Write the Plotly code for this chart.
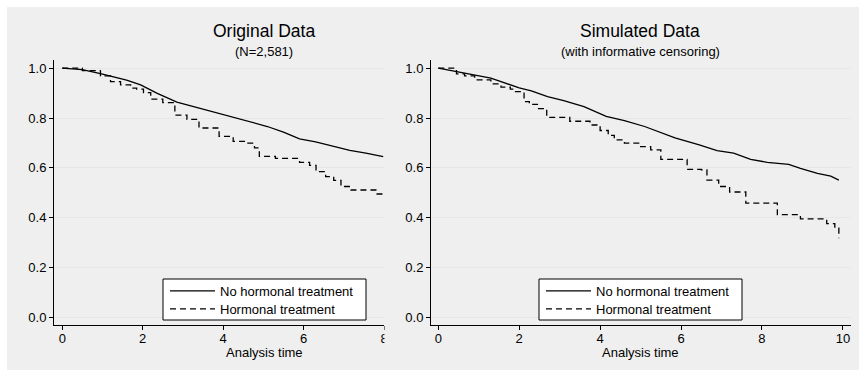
import plotly.graph_objects as go

W, H = 859, 370

# ---------------- data ----------------
orig_t_none = [0, 0.5, 0.95, 1.3, 1.6, 1.95, 2.35, 2.85, 3.4, 3.8, 4.25, 4.7, 5.1, 5.5, 5.9, 6.3, 6.7, 7.15, 7.55, 7.98]
orig_s_none = [1.0, 0.994, 0.978, 0.965, 0.952, 0.933, 0.9, 0.864, 0.84, 0.822, 0.803, 0.784, 0.766, 0.743, 0.716, 0.704, 0.688, 0.67, 0.659, 0.645]

orig_t_horm = [0, 0.5, 0.95, 1.2, 1.45, 1.7, 1.85, 2.02, 2.2, 2.5, 2.8, 3.1, 3.4, 3.9, 4.25, 4.55, 4.78, 4.9, 5.3, 5.9, 6.15, 6.31, 6.55, 6.75, 6.93, 7.18, 7.8, 7.98]
orig_s_horm = [1.0, 0.99, 0.969, 0.946, 0.933, 0.92, 0.916, 0.902, 0.876, 0.862, 0.812, 0.795, 0.76, 0.726, 0.706, 0.699, 0.68, 0.646, 0.638, 0.622, 0.61, 0.585, 0.565, 0.55, 0.525, 0.511, 0.495, 0.491]

sim_t_none = [0, 0.6, 1.3, 1.55, 2.0, 2.3, 2.7, 3.1, 3.6, 4.15, 4.6, 5.1, 5.55, 5.85, 6.45, 6.89, 7.3, 7.72, 8.13, 8.66, 8.95, 9.37, 9.7, 9.9]
sim_s_none = [1.0, 0.982, 0.96, 0.946, 0.921, 0.909, 0.886, 0.87, 0.846, 0.807, 0.79, 0.766, 0.74, 0.72, 0.692, 0.669, 0.659, 0.634, 0.622, 0.614, 0.598, 0.578, 0.567, 0.551]

sim_t_horm = [0, 0.45, 0.65, 0.9, 1.3, 1.55, 1.78, 1.88, 2.12, 2.25, 2.45, 2.68, 3.25, 3.75, 4.0, 4.2, 4.35, 4.6, 5.0, 5.25, 5.5, 6.15, 6.5, 6.64, 6.93, 7.2, 7.6, 8.38, 8.95, 9.6, 9.8, 9.9]
sim_s_horm = [1.0, 0.977, 0.969, 0.953, 0.937, 0.924, 0.916, 0.906, 0.866, 0.855, 0.838, 0.803, 0.787, 0.772, 0.75, 0.73, 0.712, 0.699, 0.685, 0.672, 0.634, 0.594, 0.592, 0.551, 0.525, 0.503, 0.458, 0.412, 0.395, 0.376, 0.358, 0.317]

titles = ["Original Data", "Simulated Data"]
subtitles = ["(N=2,581)", "(with informative censoring)"]
series_names = ["No hormonal treatment", "Hormonal treatment"]
x_title = "Analysis time"
y_ticks = [0.0, 0.2, 0.4, 0.6, 0.8, 1.0]
x_ticks_left = [0, 2, 4, 6, 8]
x_ticks_right = [0, 2, 4, 6, 8, 10]

# ---------------- helpers ----------------
def px(x):
    return x / W

def py(y):
    return 1 - y / H

FONT = "Liberation Sans, Arial, sans-serif"
BG = "#efefef"
DASH = "6px,4px"

fig = go.Figure()

panels = [
    dict(xa="x", ya="y", legs=("legend", "legend3"), t1=orig_t_none, s1=orig_s_none, t2=orig_t_horm, s2=orig_s_horm),
    dict(xa="x2", ya="y2", legs=("legend2", "legend4"), t1=sim_t_none, s1=sim_s_none, t2=sim_t_horm, s2=sim_s_horm),
]
for p in panels:
    fig.add_trace(go.Scatter(x=p["t1"], y=p["s1"], mode="lines", name=series_names[0],
                             line=dict(color="black", width=1.3, shape="linear"),
                             xaxis=p["xa"], yaxis=p["ya"], legend=p["legs"][0]))
    fig.add_trace(go.Scatter(x=p["t2"], y=p["s2"], mode="lines", name=series_names[1],
                             line=dict(color="black", width=1.3, dash=DASH, shape="hv"),
                             xaxis=p["xa"], yaxis=p["ya"], legend=p["legs"][1]))

axis_common = dict(showline=True, linecolor="black", linewidth=1, ticks="outside", ticklen=4,
                   tickcolor="black", tickwidth=1, tickfont=dict(size=13, color="black", family=FONT),
                   zeroline=False, automargin=False, fixedrange=True)

ydom = [py(325), py(60)]
fig.update_layout(
    width=W, height=H,
    margin=dict(l=0, r=0, t=0, b=0),
    paper_bgcolor="white", plot_bgcolor="white",
    font=dict(family=FONT, size=13, color="black"),
    xaxis=dict(domain=[px(54), px(384)], range=[-0.205, 8.0], tickvals=x_ticks_left,
               showgrid=False, anchor="y", ticklabelstandoff=-3, **axis_common),
    yaxis=dict(domain=ydom, range=[-0.031, 1.033], tickvals=y_ticks, tickformat=".1f",
               showgrid=True, gridcolor="#e6e6e6", gridwidth=1, anchor="x", **axis_common),
    xaxis2=dict(domain=[px(431), px(851)], range=[-0.18, 10.2], tickvals=x_ticks_right,
                showgrid=False, anchor="y2", ticklabelstandoff=-3, **axis_common),
    yaxis2=dict(domain=ydom, range=[-0.031, 1.033], tickvals=y_ticks, tickformat=".1f",
                showgrid=True, gridcolor="#e6e6e6", gridwidth=1, anchor="x2", **axis_common),
    showlegend=True,
)

leg_common = dict(bgcolor="rgba(0,0,0,0)", borderwidth=0, xanchor="left", yanchor="middle",
                  font=dict(size=13, color="black", family=FONT), itemwidth=45,
                  itemclick=False, itemdoubleclick=False)
fig.update_layout(
    legend=dict(x=px(165), y=py(291), **leg_common),
    legend3=dict(x=px(165), y=py(309), **leg_common),
    legend2=dict(x=px(541), y=py(291), **leg_common),
    legend4=dict(x=px(541), y=py(309), **leg_common),
)

shapes = [
    # gray outer background
    dict(type="rect", xref="paper", yref="paper", x0=px(7), x1=1.0, y0=0, y1=py(7),
         fillcolor=BG, line=dict(width=0), layer="below"),
    # legend boxes
    dict(type="rect", xref="paper", yref="paper", x0=px(163), x1=px(366), y0=py(320), y1=py(279),
         fillcolor="white", line=dict(color="black", width=1), layer="above"),
    dict(type="rect", xref="paper", yref="paper", x0=px(539), x1=px(742), y0=py(320), y1=py(279),
         fillcolor="white", line=dict(color="black", width=1), layer="above"),
    # clip the right half of the left panel's last tick label
    dict(type="rect", xref="paper", yref="paper", x0=px(384.5), x1=px(398), y0=py(346), y1=py(326),
         fillcolor=BG, line=dict(width=0), layer="above"),
]
fig.update_layout(shapes=shapes)

centers = [264, 640]
ann = []
for c, t, s in zip(centers, titles, subtitles):
    ann.append(dict(x=px(c), y=py(31), xref="paper", yref="paper", text=t, showarrow=False,
                    font=dict(size=17.5, color="black", family=FONT), xanchor="center", yanchor="middle"))
    ann.append(dict(x=px(c), y=py(51.5), xref="paper", yref="paper", text=s, showarrow=False,
                    font=dict(size=13, color="black", family=FONT), xanchor="center", yanchor="middle"))
    ann.append(dict(x=px(c), y=py(352), xref="paper", yref="paper", text=x_title, showarrow=False,
                    font=dict(size=13, color="black", family=FONT), xanchor="center", yanchor="middle"))
fig.update_layout(annotations=ann)

fig.write_html("out.html", config={"displayModeBar": False},
               post_script="document.body.style.margin='0';document.body.style.overflow='hidden';")
